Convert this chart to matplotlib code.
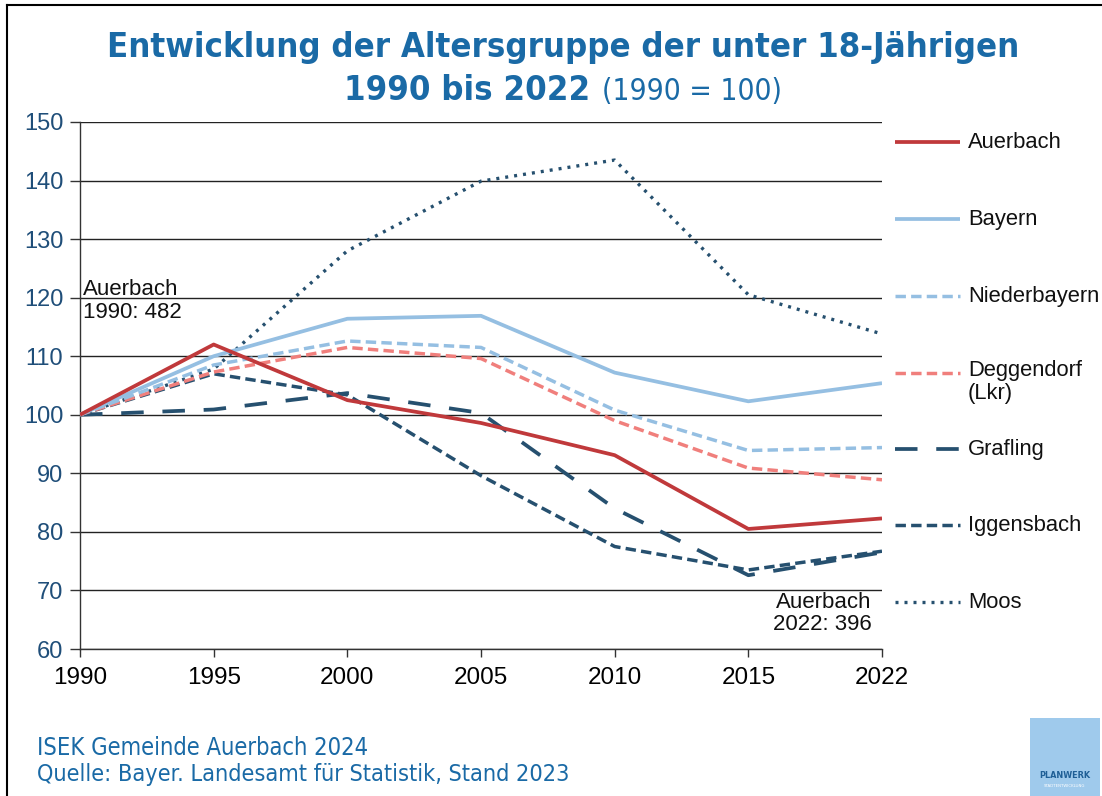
import matplotlib
matplotlib.use("Agg")
import matplotlib.pyplot as plt
from matplotlib.lines import Line2D
from matplotlib.patches import Rectangle

years = ['1990', '1995', '2000', '2005', '2010', '2015', '2022']
auerbach = [100, 112.0, 102.5, 98.6, 93.1, 80.5, 82.3]
bayern = [100, 110.0, 116.4, 116.9, 107.2, 102.3, 105.4]
niederbayern = [100, 108.5, 112.6, 111.5, 100.8, 93.9, 94.4]
deggendorf = [100, 107.3, 111.5, 109.6, 99.0, 90.9, 88.9]
grafling = [100, 100.9, 103.7, 100.3, 84.0, 72.6, 76.5]
iggensbach = [100, 107.0, 103.4, 89.6, 77.5, 73.5, 76.7]
moos = [100, 107.8, 128.0, 139.9, 143.5, 120.5, 113.8]

series_names = ['Auerbach', 'Bayern', 'Niederbayern', 'Deggendorf', 'Grafling', 'Iggensbach', 'Moos']
legend_labels = ['Auerbach', 'Bayern', 'Niederbayern', 'Deggendorf\n(Lkr)', 'Grafling', 'Iggensbach', 'Moos']
series_values = [auerbach, bayern, niederbayern, deggendorf, grafling, iggensbach, moos]

RED = '#c0393b'
LBLUE = '#95bfe2'
SALMON = '#f07f7c'
DBLUE = '#26506f'
TBLUE = '#1a6aa6'

styles = {
    'Auerbach': dict(color=RED, lw=2.7, ls='-'),
    'Bayern': dict(color=LBLUE, lw=2.7, ls='-'),
    'Niederbayern': dict(color=LBLUE, lw=2.5, ls=(0, (3.0, 1.5))),
    'Deggendorf': dict(color=SALMON, lw=2.5, ls=(0, (3.0, 1.5))),
    'Grafling': dict(color=DBLUE, lw=2.7, ls=(0, (6.0, 5.0))),
    'Iggensbach': dict(color=DBLUE, lw=2.5, ls=(0, (3.0, 1.5))),
    'Moos': dict(color=DBLUE, lw=2.4, ls=(0, (0.9, 1.8))),
}
zorders = {'Moos': 3, 'Iggensbach': 4, 'Grafling': 5, 'Deggendorf': 6,
           'Niederbayern': 7, 'Bayern': 8, 'Auerbach': 9}

plt.rcParams['font.family'] = ['Liberation Sans', 'DejaVu Sans']

fig = plt.figure(figsize=(11.02, 7.96), dpi=100)
ax = fig.add_axes([80 / 1102, 1 - 649 / 796, (882 - 80) / 1102, (649 - 122) / 796])

x = list(range(len(years)))
for name, vals in zip(series_names, series_values):
    st = styles[name]
    ax.plot(x, vals, color=st['color'], lw=st['lw'], linestyle=st['ls'],
            zorder=zorders[name], solid_capstyle='butt', dash_capstyle='butt')

ax.set_xlim(0, len(years) - 1)
ax.set_ylim(60, 150)
ax.set_yticks(range(60, 151, 10))
ax.set_xticks(x)
ax.set_xticklabels(years)
ax.grid(axis='y', color='#222222', lw=1.0, zorder=1)
ax.set_axisbelow(True)
for s in ['top', 'right']:
    ax.spines[s].set_visible(False)
for s in ['left', 'bottom']:
    ax.spines[s].set_color('#333333')
    ax.spines[s].set_linewidth(1.0)
ax.tick_params(axis='y', direction='out', length=7, width=1, color='#333333',
               labelsize=17, labelcolor='#1f4e79', pad=5)
ax.tick_params(axis='x', direction='out', length=6, width=1, color='#333333',
               labelsize=17.5, labelcolor='black', pad=7)

# annotations
ax.text(0.02, 123.2, 'Auerbach\n1990: 482', ha='left', va='top', fontsize=16,
        color='#111111', linespacing=1.1)
ax.text(5.92, 69.8, 'Auerbach\n2022: 396', ha='right', va='top', fontsize=16,
        color='#111111', linespacing=1.1)

# legend (manual, to mimic layout)
leg_x0, leg_x1 = 895 / 1102, 960 / 1102
leg_tx = 968 / 1102
row_px = [142, 219, 296, 373, 449, 525, 602]
for name, lab, rp in zip(series_names, legend_labels, row_px):
    st = styles[name]
    yf = 1 - rp / 796
    fig.add_artist(Line2D([leg_x0, leg_x1], [yf, yf], color=st['color'], lw=st['lw'],
                          linestyle=st['ls'], solid_capstyle='butt', dash_capstyle='butt'))
    if '\n' in lab:
        fig.text(leg_tx, yf + 13 / 796, lab, ha='left', va='top', fontsize=15.8,
                 color='#111111', linespacing=1.15)
    else:
        fig.text(leg_tx, yf, lab, ha='left', va='center', fontsize=15.8, color='#111111')

# title
tfont = dict(family=['DejaVu Sans'], stretch='condensed', weight='bold')
fig.text(563 / 1102, 1 - 48 / 796, 'Entwicklung der Altersgruppe der unter 18-Jährigen',
         ha='center', va='center', fontsize=24.8, color=TBLUE, **tfont)
renderer = fig.canvas.get_renderer()
t1 = fig.text(0, 1 - 90 / 796, '1990 bis 2022 ', ha='left', va='center', fontsize=24.8,
              color=TBLUE, **tfont)
t2 = fig.text(0, 1 - 91 / 796, '(1990 = 100)', ha='left', va='center', fontsize=21.5,
              color=TBLUE, family=['DejaVu Sans'], stretch='condensed')
w1 = t1.get_window_extent(renderer).width
w2 = t2.get_window_extent(renderer).width
cx = 563
start = cx - (w1 + w2) / 2
t1.set_x(start / 1102)
t2.set_x((start + w1) / 1102)

# footer
fig.text(37 / 1102, 1 - 748 / 796, 'ISEK Gemeinde Auerbach 2024', ha='left', va='center',
         fontsize=17, color=TBLUE, family=['DejaVu Sans'], stretch='condensed')
fig.text(37 / 1102, 1 - 775 / 796, 'Quelle: Bayer. Landesamt für Statistik, Stand 2023',
         ha='left', va='center', fontsize=16.8, color=TBLUE, family=['DejaVu Sans'],
         stretch='condensed')

# logo
fig.add_artist(Rectangle((1030 / 1102, 0), 70 / 1102, 78 / 796, transform=fig.transFigure,
                         facecolor='#9fcaec', edgecolor='none'))
fig.text(1065 / 1102, 1 - 775 / 796, 'PLANWERK', ha='center', va='center', fontsize=6.5,
         color='#1f5f96', weight='bold', family=['DejaVu Sans'], stretch='condensed')
fig.text(1065 / 1102, 1 - 786 / 796, 'STADTENTWICKLUNG', ha='center', va='center',
         fontsize=3.2, color='white', family=['DejaVu Sans'], stretch='condensed')

# frame lines (top and left)
fig.add_artist(Line2D([7 / 1102, 1], [1 - 5 / 796, 1 - 5 / 796], color='black', lw=1.5))
fig.add_artist(Line2D([7 / 1102, 7 / 1102], [0, 1 - 5 / 796], color='black', lw=1.5))

fig.savefig('out.png', dpi=100)
